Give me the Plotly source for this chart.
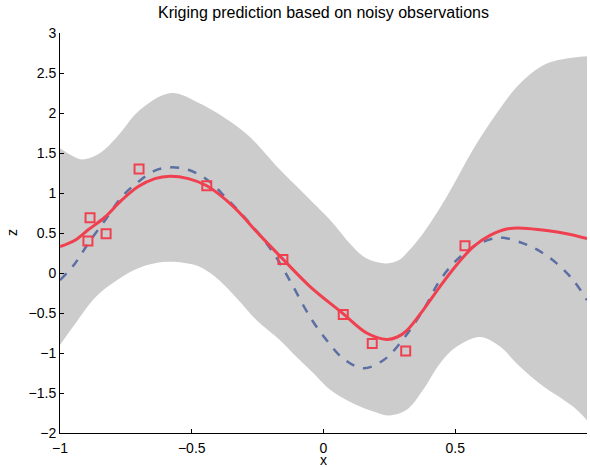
import plotly.graph_objects as go

# Observations
obs_x = [-0.894, -0.886, -0.825, -0.700, -0.443, -0.154, 0.075, 0.185, 0.312, 0.537]
obs_z = [0.40, 0.69, 0.49, 1.30, 1.09, 0.17, -0.52, -0.88, -0.975, 0.34]

# Kriging mean prediction
pred_x = [-1.0, -0.943, -0.893, -0.829, -0.766, -0.703, -0.64, -0.583, -0.513, -0.443,
          -0.342, -0.241, -0.153, -0.051, 0.075, 0.164, 0.24, 0.28, 0.316, 0.379, 0.442,
          0.505, 0.569, 0.632, 0.695, 0.758, 0.847, 0.923, 1.0]
pred_z = [0.33, 0.41, 0.54, 0.70, 0.91, 1.08, 1.18, 1.21, 1.18, 1.09,
          0.83, 0.47, 0.17, -0.17, -0.51, -0.75, -0.83, -0.80, -0.72, -0.46, -0.17,
          0.10, 0.33, 0.47, 0.55, 0.56, 0.53, 0.49, 0.43]

# True function
true_x = [-1.0, -0.943, -0.893, -0.829, -0.766, -0.703, -0.64, -0.583, -0.513, -0.443,
          -0.367, -0.279, -0.216, -0.165, -0.115, -0.051, 0.012, 0.075, 0.151, 0.227,
          0.29, 0.379, 0.442, 0.505, 0.569, 0.632, 0.683, 0.758, 0.822, 0.885, 0.948, 1.0]
true_z = [-0.09, 0.12, 0.37, 0.66, 0.95, 1.14, 1.28, 1.32, 1.29, 1.17,
          0.93, 0.62, 0.37, 0.12, -0.17, -0.55, -0.84, -1.07, -1.19, -1.09,
          -0.88, -0.46, -0.09, 0.16, 0.33, 0.42, 0.44, 0.37, 0.27, 0.12, -0.09, -0.34]

# Confidence band, upper edge
hi_x = [-1.0, -0.95, -0.913, -0.848, -0.784, -0.696, -0.579, -0.469, -0.343, -0.279,
        -0.214, -0.165, -0.089, -0.025, 0.037, 0.10, 0.164, 0.24, 0.29, 0.316, 0.379,
        0.467, 0.567, 0.658, 0.746, 0.848, 1.0]
hi_z = [1.56, 1.46, 1.42, 1.50, 1.70, 2.04, 2.25, 2.12, 1.87, 1.70,
        1.47, 1.29, 1.04, 0.83, 0.62, 0.37, 0.18, 0.12, 0.17, 0.25, 0.50,
        0.95, 1.54, 2.00, 2.37, 2.62, 2.71]

# Confidence band, lower edge
lo_x = [-1.0, -0.95, -0.886, -0.842, -0.784, -0.703, -0.60, -0.488, -0.43, -0.38, -0.317,
        -0.254, -0.165, -0.102, -0.039, 0.025, 0.113, 0.189, 0.252, 0.316, 0.378,
        0.442, 0.506, 0.594, 0.67, 0.733, 0.82, 0.947, 1.0]
lo_z = [-0.90, -0.67, -0.38, -0.23, -0.09, 0.06, 0.14, 0.10, 0.0, -0.14, -0.36,
        -0.59, -0.84, -1.05, -1.25, -1.46, -1.63, -1.73, -1.78, -1.71, -1.46,
        -1.13, -0.92, -0.80, -0.92, -1.13, -1.38, -1.67, -1.84]

red = "#f0404f"
fig = go.Figure()
fig.add_trace(go.Scatter(x=hi_x, y=hi_z, mode="lines", line=dict(width=0, shape="spline", smoothing=1.0),
                         showlegend=False, hoverinfo="skip"))
fig.add_trace(go.Scatter(x=lo_x, y=lo_z, mode="lines", line=dict(width=0, shape="spline", smoothing=1.0),
                         fill="tonexty", fillcolor="#cccccc", showlegend=False, hoverinfo="skip"))
fig.add_trace(go.Scatter(x=true_x, y=true_z, mode="lines",
                         line=dict(color="#5b6fa3", width=2.5, dash="dash", shape="spline", smoothing=1.0),
                         showlegend=False))
fig.add_trace(go.Scatter(x=pred_x, y=pred_z, mode="lines",
                         line=dict(color=red, width=3, shape="spline", smoothing=1.0),
                         showlegend=False))
fig.add_trace(go.Scatter(x=obs_x, y=obs_z, mode="markers",
                         marker=dict(symbol="square-open", size=9, color=red, line=dict(width=2, color=red)),
                         showlegend=False))

fig.update_layout(
    width=590, height=467,
    margin=dict(l=60, r=3, t=33, b=34, autoexpand=False),
    paper_bgcolor="white", plot_bgcolor="white",
    font=dict(family="Liberation Sans, Arial, sans-serif", size=14, color="black"),
    title=dict(text="Kriging prediction based on noisy observations", x=0.5, xref="paper", xanchor="center",
               y=0.985, yref="container", yanchor="top", font=dict(size=16)),
    xaxis=dict(range=[-1, 1], tickvals=[-1, -0.5, 0, 0.5, 1], ticktext=["−1", "−0.5", "0", "0.5", "1"],
               showline=True, linecolor="black", linewidth=1, ticks="inside", ticklen=4,
               tickcolor="black", showgrid=False, zeroline=False, ticklabelstandoff=2,
               automargin=False),
    yaxis=dict(range=[-2, 3], tickvals=[-2, -1.5, -1, -0.5, 0, 0.5, 1, 1.5, 2, 2.5, 3],
               showline=True, linecolor="black", linewidth=1, ticks="inside", ticklen=4,
               tickcolor="black", showgrid=False, zeroline=False, automargin=False),
    annotations=[
        dict(text="x", xref="paper", yref="paper", x=0.5, y=-0.067, xanchor="center", yanchor="middle",
             showarrow=False, font=dict(size=14)),
        dict(text="z", xref="paper", yref="paper", x=-0.091, y=0.5, xanchor="center", yanchor="middle",
             textangle=-90, showarrow=False, font=dict(size=14)),
    ],
)

fig.write_html("out.html")
